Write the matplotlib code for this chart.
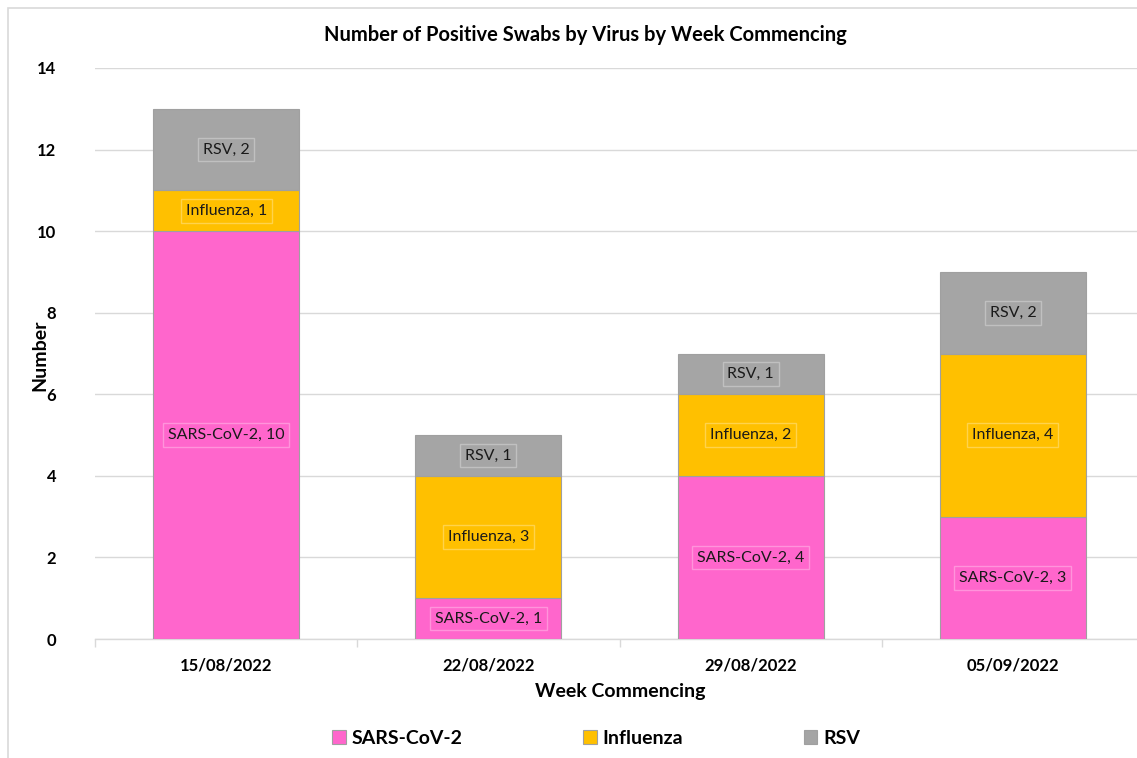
import matplotlib
matplotlib.use('Agg')
import matplotlib.pyplot as plt
from matplotlib.patches import Rectangle
import numpy as np

plt.rcParams['font.family'] = ['Lato', 'DejaVu Sans']

weeks = ['15/08/2022', '22/08/2022', '29/08/2022', '05/09/2022']
sars = [10, 1, 4, 3]
flu = [1, 3, 2, 4]
rsv = [2, 1, 1, 2]

series = [('SARS-CoV-2', sars, '#FF66CC'),
          ('Influenza', flu, '#FFC000'),
          ('RSV', rsv, '#A5A5A5')]

W, H = 1137, 758
fig = plt.figure(figsize=(W/100, H/100), dpi=100)
# axes runs a bit past the right edge like the original
ax = fig.add_axes([95/W, 119/H, 1049/W, 571/H])

# outer chart border
fig.patches.append(Rectangle((8/W, -0.1), 1.2, (H-8)/H + 0.1, transform=fig.transFigure,
                             fill=False, edgecolor='#D9D9D9', lw=1.2))

x = np.arange(len(weeks))
bottom = np.zeros(len(weeks))
for name, vals, col in series:
    vals = np.array(vals, dtype=float)
    ax.bar(x, vals, bottom=bottom, width=0.557, color=col, edgecolor='#A0A0A0',
           linewidth=0.8, label=name, zorder=3)
    for i in range(len(weeks)):
        if vals[i] > 0:
            ax.text(x[i], bottom[i] + vals[i]/2, '%s, %d' % (name, vals[i]),
                    ha='center', va='center', fontsize=11.5, color='#1a1a1a', zorder=4,
                    bbox=dict(boxstyle='square,pad=0.3', facecolor='none',
                              edgecolor=(1, 1, 1, 0.3), lw=1.0))
    bottom += vals

ax.set_xlim(-0.5, len(weeks) - 0.5)
ax.set_ylim(0, 14)
ax.set_yticks(range(0, 15, 2))
ax.grid(axis='y', color='#D9D9D9', lw=1, zorder=0)
for s in ['top', 'right', 'left']:
    ax.spines[s].set_visible(False)
ax.spines['bottom'].set_color('#D9D9D9')
ax.spines['bottom'].set_linewidth(1)

ax.set_xticks(x)
ax.set_xticklabels(weeks, fontweight='bold', fontsize=12)
ax.tick_params(axis='x', length=0, pad=13)
ax.set_xticks(np.arange(-0.5, len(weeks), 1), minor=True)
ax.tick_params(axis='x', which='minor', length=6, color='#D9D9D9', width=1)
ax.tick_params(axis='y', length=0, pad=28, labelsize=12)
for t in ax.get_yticklabels():
    t.set_fontweight('bold')

fig.text(585/W, 1 - 35/H, 'Number of Positive Swabs by Virus by Week Commencing',
         ha='center', va='center', fontsize=14.5, fontweight='bold')
fig.text(620/W, 1 - 692/H, 'Week Commencing', ha='center', va='center',
         fontsize=14, fontweight='bold')
fig.text(40/W, 1 - 355/H, 'Number', ha='center', va='center', rotation=90,
         fontsize=14, fontweight='bold')

fig.legend(loc='center', bbox_to_anchor=(596/W, 1 - 738/H), ncol=3, frameon=False,
           prop={'weight': 'bold', 'size': 14}, handlelength=0.7, handleheight=0.7,
           handletextpad=0.3, columnspacing=6.2)

fig.savefig('out.png', dpi=100)
